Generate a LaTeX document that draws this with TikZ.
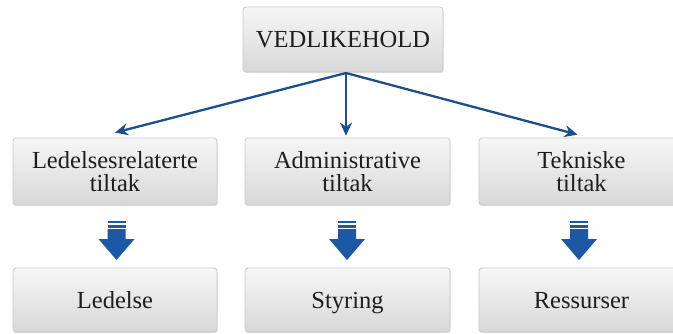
\documentclass[tikz,border=0pt]{standalone}
\usepackage{fontspec}
\setmainfont{Liberation Serif}
\usetikzlibrary{arrows.meta,shadows}
\definecolor{linkblue}{HTML}{1E4F8A}
\definecolor{blockblue}{HTML}{1C58A4}
\definecolor{boxedge}{HTML}{C9C9C9}
\definecolor{boxtop}{HTML}{F6F6F6}
\definecolor{boxbot}{HTML}{D8D8D8}
\definecolor{inktext}{HTML}{1E1E1E}
\tikzset{
  x=1pt, y=-1pt,
  box/.style={draw=boxedge, line width=0.8pt, rounded corners=3pt,
    top color=boxtop, bottom color=boxbot, align=center,
    text=inktext, font=\fontsize{24.5}{23}\selectfont,
    inner sep=0pt, text depth=0pt,
    drop shadow={shadow xshift=0.6pt, shadow yshift=-1.2pt, opacity=0.25, fill=black!40}},
  link/.style={draw=linkblue, line width=2.3pt, -{Stealth[length=13pt,width=12pt]}},
  pics/blockarrow/.style={code={
    \fill[blockblue] (-9,0) rectangle (9,2.4);
    \fill[blockblue] (-9,4.2) rectangle (9,7.2);
    \fill[blockblue] (-9,8.2) -- (9,8.2) -- (9,18) -- (18,18) -- (0,39)
      -- (-18,18) -- (-9,18) -- cycle;
  }}
}
\begin{document}
\begin{tikzpicture}
\useasboundingbox (0,0) rectangle (673,333);
\fill[white] (0,0) rectangle (673,333);

% top level
\node[box, minimum width=200pt, minimum height=65pt] (top) at (343,39.5) {VEDLIKEHOLD};

% measures
\node[box, minimum width=204pt, minimum height=67pt] (lead) at (115,171.5) {Ledelsesrelaterte\\tiltak};
\node[box, minimum width=205pt, minimum height=67pt] (admin) at (347.5,171.5) {Administrative\\tiltak};
\node[box, minimum width=205pt, minimum height=67pt] (tech) at (581.5,171.5) {Tekniske\\tiltak};

% outcomes
\node[box, minimum width=204pt, minimum height=64pt] (ledelse) at (115,300) {Ledelse};
\node[box, minimum width=205pt, minimum height=64pt] (styring) at (347.5,300) {Styring};
\node[box, minimum width=205pt, minimum height=64pt] (ressurser) at (581.5,300) {Ressurser};

% connectors from the top box
\coordinate (hub) at (346,73);
\draw[link] (hub) -- ([yshift=5pt]lead.north);
\draw[link] (hub) -- ([xshift=-1.5pt,yshift=2pt]admin.north);
\draw[link] (hub) -- ([xshift=-4pt,yshift=3pt]tech.north);

% block arrows between the rows
\pic at (116.5,221) {blockarrow};
\pic at (347,221) {blockarrow};
\pic at (579,221) {blockarrow};
\end{tikzpicture}
\end{document}
